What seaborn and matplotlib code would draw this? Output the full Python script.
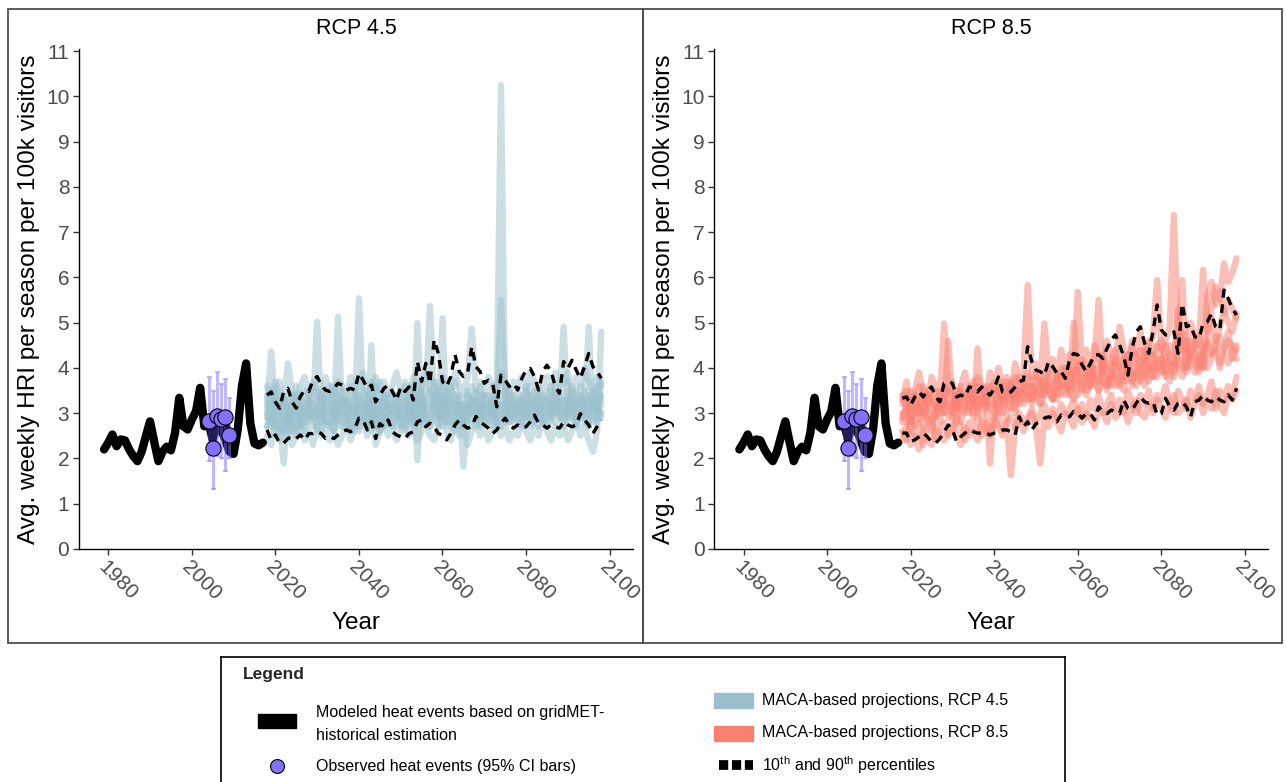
import matplotlib
matplotlib.use("Agg")
import matplotlib.pyplot as plt
from matplotlib.patches import Rectangle
import pandas as pd
import seaborn as sns

# --- historical gridMET-based estimate -------------------------------------
hist_years = list(range(1979, 2018))
hist_hri = [2.20, 2.35, 2.53, 2.27, 2.42, 2.40, 2.20, 2.05, 1.94, 2.15,
            2.49, 2.82, 2.37, 1.94, 2.15, 2.26, 2.18, 2.57, 3.34, 2.71,
            2.64, 2.86, 3.04, 3.56, 2.71, 2.78, 2.42, 2.78, 2.64, 2.42,
            2.15, 2.10, 2.64, 3.60, 4.10, 2.78, 2.33, 2.29, 2.35]

# --- observed heat events with 95% CI --------------------------------------
obs_years = [2004, 2005, 2006, 2007, 2008, 2009]
obs_hri = [2.82, 2.24, 2.93, 2.88, 2.92, 2.51]
obs_lo = [1.95, 1.32, 2.05, 2.00, 1.72, 2.00]
obs_hi = [3.81, 3.50, 3.91, 3.65, 3.76, 3.34]

# --- MACA projections, 2018-2098 ------------------------------------------
proj_years = list(range(2018, 2099))

rcp45_m1 = [3.1, 4.36, 3.0, 2.6, 3.3, 2.8, 3.4, 2.7, 3.0, 3.5,
            2.9, 3.2, 2.6, 3.4, 3.0, 2.7, 3.6, 3.1, 2.8, 3.3,
            2.7, 3.5, 3.0, 2.9, 3.4, 2.6, 3.1, 3.7, 2.8, 3.2,
            3.0, 2.7, 3.5, 3.1, 2.8, 3.6, 3.0, 2.9, 3.4, 5.37,
            3.3, 2.9, 3.6, 3.0, 2.7, 3.4, 3.1, 2.8, 3.5, 3.2,
            2.9, 3.6, 3.0, 2.8, 3.3, 3.5, 10.25, 3.1, 2.9, 3.4,
            3.0, 2.7, 3.5, 3.2, 2.8, 3.6, 3.0, 3.3, 2.9, 3.4,
            3.1, 2.8, 3.7, 3.0, 3.2, 2.9, 3.5, 3.1, 2.8, 3.6,
            3.3]
rcp45_m2 = [2.7, 3.2, 3.6, 2.9, 1.89, 3.3, 3.0, 2.6, 3.4, 2.8,
            3.3, 2.7, 3.1, 3.5, 2.8, 3.0, 2.6, 3.4, 3.2, 2.9,
            3.6, 3.0, 5.54, 3.1, 2.7, 3.3, 2.9, 2.6, 3.5, 3.0,
            2.8, 3.4, 3.1, 2.7, 3.6, 2.9, 3.2, 3.5, 2.8, 3.1,
            3.7, 3.0, 2.8, 3.3, 3.6, 2.9, 3.2, 2.7, 3.4, 3.0,
            3.5, 2.8, 3.2, 3.4, 2.7, 3.0, 5.5, 3.3, 2.8, 3.1,
            3.5, 3.0, 2.9, 3.6, 3.1, 2.7, 3.4, 3.2, 2.8, 3.5,
            2.9, 3.3, 3.0, 3.6, 2.8, 3.4, 3.1, 2.7, 3.5, 3.2,
            2.9]
rcp45_m3 = [3.4, 2.8, 3.1, 3.7, 2.9, 2.5, 3.2, 3.6, 2.8, 3.0,
            3.5, 3.1, 5.02, 2.9, 3.3, 3.6, 2.8, 3.0, 3.5, 2.7,
            3.1, 3.4, 2.8, 3.2, 3.0, 3.7, 2.7, 3.1, 3.3, 2.8,
            3.5, 3.0, 2.7, 3.3, 3.1, 2.8, 3.7, 3.2, 3.0, 2.7,
            3.4, 3.2, 2.9, 3.5, 3.0, 2.6, 3.3, 1.82, 3.0, 3.6,
            3.1, 2.7, 3.4, 3.0, 3.6, 2.9, 3.2, 2.8, 3.5, 3.0,
            2.8, 3.4, 3.1, 2.9, 3.5, 3.2, 2.8, 3.3, 3.6, 3.0,
            3.2, 4.91, 2.9, 3.3, 3.0, 3.6, 2.8, 3.2, 3.4, 3.0,
            3.7]
rcp45_m4 = [2.9, 3.5, 2.7, 3.1, 3.4, 3.0, 2.6, 3.3, 3.1, 2.7,
            3.0, 3.6, 3.2, 2.8, 3.1, 3.4, 2.9, 5.13, 3.0, 3.3,
            2.9, 2.6, 3.2, 3.5, 3.1, 2.8, 3.6, 3.0, 2.7, 3.4,
            3.1, 2.9, 3.3, 3.6, 3.0, 2.7, 4.99, 2.8, 3.2, 3.5,
            3.0, 2.7, 3.3, 3.1, 3.4, 3.7, 2.9, 3.2, 2.8, 3.3,
            3.0, 3.4, 2.8, 3.1, 3.3, 2.7, 3.0, 3.6, 3.2, 2.8,
            3.3, 3.1, 3.6, 2.8, 3.0, 3.4, 3.1, 2.7, 3.3, 3.6,
            3.0, 2.7, 3.2, 3.5, 3.3, 2.9, 3.1, 4.91, 3.0, 2.8,
            3.2]
rcp45_m5 = [2.5, 2.3, 2.8, 2.4, 2.6, 2.9, 2.3, 2.5, 2.7, 2.4,
            2.6, 2.3, 2.7, 2.5, 2.8, 2.4, 2.6, 2.3, 2.5, 2.8,
            2.4, 2.7, 2.6, 2.9, 2.5, 4.5, 2.3, 2.6, 2.8, 2.5,
            2.7, 2.4, 2.6, 2.9, 2.5, 2.7, 2.4, 2.6, 2.8, 2.5,
            2.4, 2.7, 5.1, 2.6, 2.4, 2.8, 2.5, 2.7, 2.3, 2.6,
            2.8, 2.5, 2.7, 2.4, 2.6, 2.9, 2.5, 2.7, 2.4, 2.6,
            2.5, 2.8, 2.6, 2.4, 2.7, 2.5, 2.9, 2.6, 2.4, 2.7,
            2.5, 2.7, 2.4, 2.6, 2.9, 2.5, 2.7, 2.4, 2.15, 2.6,
            4.8]
rcp45_m6 = [3.6, 3.3, 3.7, 3.4, 3.2, 4.1, 3.5, 3.3, 3.6, 3.8,
            3.4, 3.7, 3.5, 3.3, 3.8, 3.5, 3.4, 3.7, 3.6, 3.3,
            3.8, 3.5, 3.6, 3.9, 3.4, 3.6, 3.8, 3.5, 3.7, 3.4,
            3.6, 3.9, 3.5, 3.7, 3.4, 3.8, 1.96, 3.6, 3.9, 3.5,
            3.7, 3.4, 3.8, 3.6, 3.5, 3.9, 3.6, 3.4, 3.8, 4.87,
            3.5, 3.7, 3.4, 3.8, 3.6, 3.5, 3.9, 3.6, 3.4, 3.7,
            3.6, 3.8, 3.5, 3.9, 3.7, 3.4, 3.6, 3.8, 3.5, 3.9,
            3.6, 3.7, 3.9, 3.5, 3.8, 3.6, 4.0, 3.7, 3.5, 3.8,
            3.6]
rcp45_m7 = [3.0, 2.7, 3.3, 3.1, 2.8, 3.2, 2.9, 3.4, 2.7, 3.1,
            3.3, 2.9, 3.1, 2.8, 3.4, 3.0, 3.2, 2.7, 3.3, 3.0,
            3.2, 2.9, 3.4, 3.0, 2.8, 3.3, 3.1, 2.9, 3.4, 3.0,
            3.2, 3.4, 2.9, 3.1, 3.3, 3.0, 2.8, 3.4, 3.1, 2.9,
            3.2, 3.5, 3.0, 2.8, 3.3, 3.1, 3.4, 2.9, 3.2, 3.0,
            3.3, 3.0, 3.4, 3.2, 2.9, 3.3, 3.1, 2.9, 3.4, 3.2,
            3.0, 3.3, 2.9, 3.4, 3.2, 3.0, 3.3, 3.5, 3.1, 3.0,
            3.4, 3.1, 3.3, 2.9, 3.5, 3.2, 3.0, 3.4, 3.2, 3.1,
            3.4]
rcp45_m8 = [2.7, 2.9, 2.5, 2.8, 2.6, 3.0, 2.7, 2.5, 2.9, 2.6,
            2.8, 3.0, 2.7, 2.6, 2.9, 2.8, 2.6, 3.0, 2.7, 2.9,
            2.6, 2.9, 2.7, 2.8, 3.0, 2.7, 2.9, 2.6, 2.8, 3.0,
            2.7, 2.9, 2.8, 2.6, 3.0, 2.8, 2.7, 3.0, 2.9, 2.7,
            2.9, 3.0, 2.7, 2.9, 2.8, 3.0, 2.7, 2.9, 3.1, 2.8,
            2.7, 3.0, 2.9, 2.8, 3.1, 2.8, 2.7, 3.0, 2.8, 2.9,
            3.1, 2.8, 3.0, 2.7, 2.9, 3.1, 2.8, 2.9, 3.0, 2.8,
            2.9, 3.0, 2.8, 3.1, 2.7, 3.0, 2.9, 2.8, 3.1, 2.9,
            3.0]

rcp85_m1 = [3.3, 3.7, 3.1, 3.5, 3.9, 3.4, 3.2, 3.8, 3.6, 3.3,
            4.98, 3.5, 3.7, 3.2, 3.6, 3.9, 3.4, 3.5, 3.8, 3.6,
            3.3, 3.9, 3.5, 4.0, 3.6, 3.8, 3.4, 4.1, 3.7, 3.9,
            5.83, 3.8, 4.1, 3.6, 4.98, 3.9, 4.2, 3.8, 4.4, 4.0,
            4.3, 3.9, 5.68, 4.1, 4.4, 3.9, 4.5, 4.2, 3.9, 4.6,
            4.3, 4.1, 4.91, 4.4, 4.0, 4.6, 4.3, 4.8, 4.2, 4.5,
            4.7, 5.94, 4.4, 4.6, 4.9, 7.38, 4.5, 4.8, 4.4, 5.0,
            4.7, 4.5, 6.17, 4.8, 5.1, 4.6, 4.9, 5.3, 5.0, 4.8,
            5.2]
rcp85_m2 = [2.8, 3.2, 2.6, 3.4, 3.0, 2.7, 3.5, 3.1, 2.9, 3.3,
            3.0, 4.6, 3.2, 2.8, 3.5, 3.1, 3.3, 2.9, 4.43, 3.2,
            3.5, 1.89, 3.3, 3.6, 3.0, 3.4, 3.7, 3.1, 3.5, 3.3,
            3.8, 3.2, 3.6, 3.4, 3.9, 3.5, 3.3, 3.8, 3.6, 4.0,
            3.4, 3.7, 4.1, 3.5, 3.9, 3.6, 4.2, 5.5, 3.8, 3.5,
            4.1, 3.8, 3.6, 4.2, 3.9, 3.7, 4.3, 4.0, 3.8, 4.4,
            4.0, 4.2, 3.9, 4.5, 4.1, 3.8, 4.4, 5.94, 4.0, 4.3,
            4.6, 4.2, 4.0, 4.5, 4.3, 4.7, 4.1, 4.4, 4.8, 4.2,
            4.5]
rcp85_m3 = [2.4, 2.7, 2.3, 2.5, 2.2, 2.6, 2.4, 2.3, 2.7, 2.5,
            2.4, 2.6, 2.8, 2.5, 2.3, 2.7, 2.5, 2.6, 2.4, 2.8,
            2.6, 2.5, 2.9, 2.7, 2.5, 2.8, 1.63, 2.7, 2.9, 2.6,
            2.8, 3.0, 2.7, 1.89, 2.9, 2.7, 3.0, 2.8, 2.6, 3.0,
            2.9, 2.7, 3.1, 2.8, 3.0, 2.9, 2.7, 3.1, 3.0, 2.8,
            3.2, 2.9, 3.0, 3.2, 2.8, 3.1, 3.3, 3.0, 2.9, 3.2,
            3.0, 3.3, 3.1, 2.9, 3.2, 3.4, 3.0, 3.1, 3.3, 2.9,
            3.2, 3.4, 3.0, 3.3, 3.1, 3.5, 3.2, 3.0, 3.4, 3.3,
            3.5]
rcp85_m4 = [3.0, 2.8, 3.3, 2.7, 3.1, 3.4, 2.9, 2.6, 3.2, 3.0,
            3.3, 2.9, 3.1, 3.4, 2.8, 3.2, 3.6, 3.0, 3.3, 2.9,
            3.4, 3.1, 3.0, 3.5, 3.3, 2.9, 3.6, 3.4, 3.2, 3.7,
            3.3, 3.6, 3.4, 3.2, 3.7, 3.5, 3.3, 3.8, 3.5, 3.4,
            3.9, 3.6, 3.4, 3.8, 3.5, 4.0, 3.7, 3.5, 3.9, 3.6,
            3.8, 4.1, 3.7, 3.5, 4.0, 3.8, 3.6, 4.2, 3.9, 3.7,
            4.3, 3.8, 4.1, 3.9, 3.7, 4.2, 4.0, 3.8, 4.4, 4.1,
            3.9, 4.3, 4.0, 5.6, 5.9, 5.4, 5.7, 5.2, 5.5, 5.3,
            5.1]
rcp85_m5 = [3.2, 3.5, 2.9, 3.3, 3.6, 3.0, 3.4, 3.2, 3.5, 2.8,
            3.6, 3.3, 3.0, 3.5, 3.2, 3.4, 3.0, 3.7, 3.1, 3.5,
            3.2, 3.6, 3.4, 3.1, 3.7, 3.3, 3.5, 3.0, 3.8, 3.4,
            3.6, 3.3, 3.9, 3.5, 3.4, 3.8, 3.6, 3.3, 4.0, 3.7,
            3.5, 5.0, 3.7, 4.1, 3.8, 3.6, 4.0, 3.7, 4.2, 3.9,
            3.6, 4.2, 4.0, 3.8, 4.3, 3.9, 4.1, 3.7, 4.4, 4.0,
            3.8, 4.5, 4.2, 3.9, 4.3, 4.1, 5.3, 4.2, 4.0, 4.6,
            4.3, 4.0, 4.4, 4.6, 5.3, 5.8, 5.5, 6.31, 5.9, 6.1,
            6.42]
rcp85_m6 = [2.6, 2.4, 2.9, 2.5, 2.8, 2.3, 2.7, 2.9, 2.4, 2.6,
            2.8, 2.5, 2.6, 2.9, 2.7, 2.4, 2.8, 2.6, 2.9, 2.5,
            2.8, 2.6, 2.7, 3.0, 2.6, 2.8, 2.9, 2.7, 3.0, 2.8,
            2.9, 3.1, 2.8, 3.0, 3.2, 2.9, 3.1, 2.9, 3.2, 3.0,
            3.1, 3.3, 3.0, 3.2, 2.9, 3.3, 3.1, 3.4, 3.0, 3.2,
            3.4, 3.1, 3.3, 3.0, 3.5, 3.2, 3.0, 3.4, 3.2, 3.5,
            3.1, 3.4, 3.3, 3.6, 3.2, 3.0, 3.5, 3.3, 3.1, 3.5,
            3.3, 3.6, 3.2, 3.4, 3.7, 3.1, 3.5, 3.3, 3.6, 3.4,
            3.8]
rcp85_m7 = [2.9, 3.1, 2.8, 3.0, 3.2, 2.9, 3.1, 2.8, 3.0, 3.3,
            3.0, 3.2, 2.9, 3.3, 3.1, 3.0, 3.2, 3.4, 3.0, 3.3,
            3.1, 3.3, 3.2, 3.0, 3.4, 3.2, 3.1, 3.5, 3.3, 3.2,
            3.4, 3.3, 3.5, 3.2, 3.4, 3.6, 3.3, 3.5, 3.4, 3.6,
            3.5, 3.3, 3.6, 3.7, 3.4, 3.6, 3.8, 3.5, 3.7, 3.6,
            3.9, 3.6, 3.8, 3.7, 4.0, 3.6, 3.9, 3.8, 3.6, 4.0,
            3.8, 4.0, 4.2, 3.8, 4.1, 3.9, 4.2, 4.0, 3.9, 4.3,
            4.1, 3.9, 4.3, 4.0, 4.2, 4.4, 4.0, 4.3, 4.1, 4.4,
            4.2]
rcp85_m8 = [3.4, 3.1, 3.5, 3.3, 3.0, 3.6, 3.3, 3.4, 3.1, 3.5,
            3.3, 3.5, 3.4, 3.1, 3.6, 3.3, 3.5, 3.2, 3.6, 3.4,
            3.6, 3.4, 3.7, 3.5, 3.3, 3.7, 3.5, 3.8, 3.4, 3.6,
            3.9, 3.6, 3.8, 3.7, 3.5, 4.0, 3.7, 3.9, 3.6, 3.8,
            4.0, 3.7, 3.9, 4.2, 3.8, 4.1, 3.9, 3.8, 4.3, 4.0,
            4.2, 4.4, 4.0, 4.3, 4.1, 4.5, 4.2, 4.4, 4.1, 4.6,
            4.3, 4.5, 4.6, 4.2, 4.5, 4.3, 4.7, 4.4, 4.6, 4.3,
            4.5, 4.7, 4.4, 4.6, 4.3, 4.5, 4.7, 4.4, 4.6, 4.5,
            4.4]

# 10th / 90th percentiles of the ensemble
rcp45_p90 = [3.40, 3.47, 3.25, 3.11, 3.48, 3.55, 3.25, 3.11, 3.37, 3.51,
             3.48, 3.73, 3.81, 3.62, 3.51, 3.48, 3.55, 3.66, 3.62, 3.51,
             3.55, 3.51, 3.88, 3.73, 3.55, 3.62, 3.25, 3.40, 3.55, 3.62,
             3.48, 3.29, 3.58, 3.48, 3.58, 3.29, 4.14, 3.70, 4.10, 3.66,
             4.62, 4.32, 3.70, 3.59, 3.81, 4.29, 3.92, 3.81, 3.88, 4.47,
             4.03, 3.92, 3.66, 3.73, 3.66, 3.14, 3.84, 3.73, 3.59, 3.66,
             3.51, 3.77, 3.95, 3.99, 3.81, 3.51, 3.92, 4.06, 3.92, 3.59,
             3.44, 4.14, 3.99, 4.17, 3.95, 3.77, 4.03, 4.32, 4.03, 3.92,
             3.77]
rcp45_p10 = [2.63, 2.41, 2.52, 2.34, 2.34, 2.44, 2.48, 2.44, 2.52, 2.41,
             2.55, 2.55, 2.59, 2.55, 2.44, 2.48, 2.44, 2.52, 2.59, 2.63,
             2.59, 2.66, 2.89, 2.85, 2.63, 2.81, 2.44, 2.77, 2.70, 2.85,
             2.59, 2.52, 2.48, 2.44, 2.55, 2.59, 2.81, 2.85, 2.70, 2.78,
             2.70, 2.55, 2.52, 2.41, 2.55, 2.74, 2.85, 2.74, 2.67, 2.70,
             2.93, 2.81, 2.74, 2.67, 2.55, 2.63, 2.78, 2.89, 2.74, 2.67,
             2.74, 2.67, 2.70, 2.81, 2.96, 2.78, 2.74, 2.67, 2.74, 2.70,
             2.67, 2.81, 2.74, 2.70, 2.74, 2.99, 2.85, 2.74, 2.55, 2.70,
             2.85]
rcp85_p90 = [3.33, 3.36, 3.18, 3.36, 3.47, 3.36, 3.51, 3.58, 3.36, 3.25,
             3.66, 3.70, 3.66, 3.36, 3.40, 3.36, 3.58, 3.55, 3.47, 3.58,
             3.47, 3.40, 3.55, 3.80, 3.47, 3.44, 3.47, 3.58, 3.70, 3.73,
             4.47, 4.14, 3.95, 3.92, 3.84, 4.14, 4.03, 3.88, 3.92, 3.77,
             4.17, 4.32, 4.29, 4.07, 3.92, 4.10, 4.29, 4.29, 4.21, 4.43,
             4.62, 4.73, 4.51, 4.25, 3.84, 4.43, 4.80, 4.91, 4.54, 4.32,
             4.80, 5.39, 4.84, 4.73, 4.73, 4.80, 4.32, 5.42, 4.91, 4.95,
             4.69, 4.65, 4.99, 5.02, 5.20, 4.91, 4.84, 5.72, 5.53, 5.31,
             5.17]
rcp85_p10 = [2.56, 2.56, 2.37, 2.41, 2.48, 2.56, 2.48, 2.37, 2.34, 2.44,
             2.59, 2.74, 2.63, 2.37, 2.48, 2.56, 2.63, 2.59, 2.56, 2.56,
             2.56, 2.52, 2.56, 2.59, 2.63, 2.63, 2.59, 2.52, 2.92, 2.70,
             2.81, 2.63, 2.77, 2.81, 2.89, 2.92, 2.89, 2.81, 2.96, 2.92,
             2.92, 3.04, 2.99, 2.89, 2.99, 2.99, 2.85, 3.14, 3.03, 2.99,
             3.07, 3.03, 2.99, 3.29, 3.11, 3.07, 3.22, 3.36, 3.25, 3.22,
             3.25, 2.96, 2.99, 3.33, 3.14, 3.07, 3.22, 3.25, 3.14, 2.92,
             3.25, 3.29, 3.40, 3.29, 3.25, 3.36, 3.29, 3.25, 3.40, 3.29,
             3.55]

BLUE = "#9AC0CD"
SALMON = "#FA8072"
PURPLE = "#8470FF"
W, H = 1286, 782


def members_frame(members: list[list[float]]) -> pd.DataFrame:
    """Long-form table of ensemble members for seaborn."""
    frames = []
    for i, vals in enumerate(members):
        assert len(vals) == len(proj_years)
        frames.append(pd.DataFrame({"year": proj_years, "hri": vals, "member": i}))
    return pd.concat(frames, ignore_index=True)


def draw_panel(ax, members, p10, p90, color, title):
    ens = members_frame(members)
    sns.lineplot(data=ens, x="year", y="hri", units="member", estimator=None,
                 color=color, alpha=0.5, linewidth=4.6, legend=False, ax=ax, zorder=2)

    sns.lineplot(x=hist_years, y=hist_hri, color="black", linewidth=6, ax=ax, zorder=3)

    for pct in (p10, p90):
        sns.lineplot(x=proj_years, y=pct, color="black", linewidth=2.4,
                     linestyle=(0, (2.6, 2.0)), ax=ax, zorder=4)

    ax.errorbar(obs_years, obs_hri,
                yerr=[[v - lo for v, lo in zip(obs_hri, obs_lo)],
                      [hi - v for v, hi in zip(obs_hri, obs_hi)]],
                fmt="none", ecolor=PURPLE, alpha=0.5, elinewidth=2.2,
                capsize=1.8, capthick=1.5, zorder=5)
    sns.lineplot(x=obs_years, y=obs_hri, color="#1F1D5C", linewidth=3.8, ax=ax, zorder=6)
    sns.scatterplot(x=obs_years, y=obs_hri, s=120, color=PURPLE, edgecolor="black",
                    linewidth=0.8, ax=ax, zorder=7)

    ax.set_xlim(1973, 2105.6)
    ax.set_ylim(0, 500 / 45.27)
    ax.set_xticks(range(1980, 2101, 20))
    ax.set_yticks(range(0, 12))
    sns.despine(ax=ax)
    for side in ("left", "bottom"):
        ax.spines[side].set_color("black")
        ax.spines[side].set_linewidth(1.0)
    ax.tick_params(axis="both", length=4, width=1, color="#333333",
                   labelcolor="#4D4D4D", labelsize=15)
    ax.tick_params(axis="x", pad=2)
    ax.tick_params(axis="y", pad=3)
    plt.setp(ax.get_xticklabels(), rotation=-45, ha="left", va="top",
             rotation_mode="anchor")

    ax.set_xlabel("Year", fontsize=17.5, color="black")
    ax.xaxis.label.set_va("center")
    ax.xaxis.set_label_coords(0.5, (549 - 623) / 500)
    ax.set_ylabel("Avg. weekly HRI per season per 100k visitors", fontsize=17.6,
                  color="black")
    ax.yaxis.label.set_va("center")
    ax.yaxis.set_label_coords((29 - 79) / 554, 0.5)
    ax.text(0.5, (549 - 29) / 500, title, transform=ax.transAxes, ha="center",
            va="center", fontsize=15.5, color="black")


sns.set_style("ticks")
plt.rcParams["font.family"] = ["Liberation Sans", "DejaVu Sans"]
plt.rcParams["mathtext.fontset"] = "custom"
plt.rcParams["mathtext.rm"] = "Liberation Sans"

fig = plt.figure(figsize=(W / 100, H / 100), dpi=100)
fig.patch.set_facecolor("white")

ax_l = fig.add_axes([79 / W, 233 / H, 554 / W, 500 / H])
ax_r = fig.add_axes([714.3 / W, 233 / H, 554 / W, 500 / H])

draw_panel(ax_l, [rcp45_m1, rcp45_m2, rcp45_m3, rcp45_m4,
                  rcp45_m5, rcp45_m6, rcp45_m7, rcp45_m8],
           rcp45_p10, rcp45_p90, BLUE, "RCP 4.5")
draw_panel(ax_r, [rcp85_m1, rcp85_m2, rcp85_m3, rcp85_m4,
                  rcp85_m5, rcp85_m6, rcp85_m7, rcp85_m8],
           rcp85_p10, rcp85_p90, SALMON, "RCP 8.5")

# panel borders
for x0, x1 in ((8, 643), (643, 1282)):
    fig.add_artist(Rectangle((x0 / W, 1 - 643 / H), (x1 - x0) / W, (643 - 9) / H,
                             transform=fig.transFigure, fill=False,
                             edgecolor="#4D4D4D", linewidth=1.3))

# legend box drawn in pixel coordinates
leg = fig.add_axes([221 / W, -6 / H, (1065 - 221) / W, (782 + 6 - 657) / H])
leg.set_xlim(221, 1065)
leg.set_ylim(788, 657)
leg.set_xticks([])
leg.set_yticks([])
for sp in leg.spines.values():
    sp.set_color("black")
    sp.set_linewidth(1.2)

txt = dict(fontsize=11.5, va="center", ha="left", color="black")
leg.text(243, 675, "Legend", fontsize=12.5, fontweight="bold", va="center", ha="left")
leg.add_patch(Rectangle((258, 714), 38, 14, color="black"))
leg.text(316, 713, "Modeled heat events based on gridMET-", **txt)
leg.text(316, 735, "historical estimation", **txt)
leg.plot([277], [766], marker="o", markersize=10, markerfacecolor=PURPLE,
         markeredgecolor="black", markeredgewidth=0.8)
leg.text(316, 766, "Observed heat events (95% CI bars)", **txt)

leg.add_patch(Rectangle((714, 693), 39, 15, color=BLUE))
leg.text(762, 701, "MACA-based projections, RCP 4.5", **txt)
leg.add_patch(Rectangle((714, 726), 39, 15, color=SALMON))
leg.text(762, 733, "MACA-based projections, RCP 8.5", **txt)
leg.plot([719, 753], [765, 765], color="black", linewidth=7,
         linestyle=(0, (0.95, 0.38)), dash_capstyle="butt")
leg.text(762, 765, r"10$^{\mathrm{th}}$ and 90$^{\mathrm{th}}$ percentiles", **txt)

fig.savefig("out.png", dpi=100)
